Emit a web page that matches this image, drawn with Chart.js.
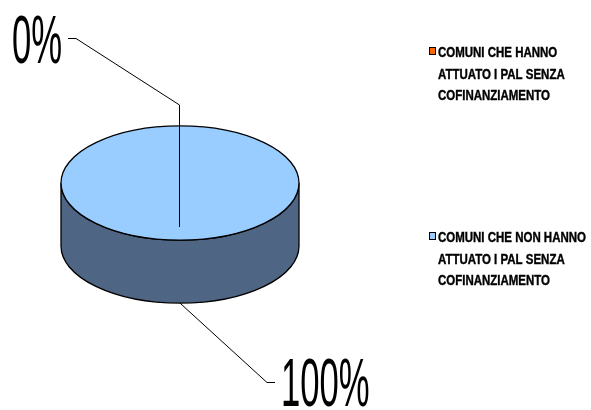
<!DOCTYPE html>
<html>
<head>
<meta charset="utf-8">
<script src="https://cdn.jsdelivr.net/npm/chart.js@4"></script>
<style>
  html, body { margin: 0; padding: 0; background: #fff; }
  canvas { display: block; }
</style>
</head>
<body>
<canvas id="chart" width="591" height="410"></canvas>
<script>
// dati della torta
const categories = [
  ["COMUNI CHE HANNO", "ATTUATO I PAL SENZA", "COFINANZIAMENTO"],
  ["COMUNI CHE NON HANNO", "ATTUATO I PAL SENZA", "COFINANZIAMENTO"]
];
const values = [0, 100];
const percentLabels = ["0%", "100%"];
const topColors = ["#FF6600", "#99CCFF"];
const sideColors = ["#8A3A05", "#4F6584"];

const SQUASH = 0.48;  // rapporto assi ellisse
const DEPTH = 63;     // spessore del cilindro

function arcGeom(chart) {
  const arcs = chart.getDatasetMeta(0).data;
  const a = arcs[0];
  return { arcs, x: a.x, y: a.y, r: a.outerRadius };
}

// torta 3D: lato prima, poi schiaccio la faccia superiore
const pie3d = {
  id: "pie3d",
  beforeDatasetsDraw(chart) {
    const ctx = chart.ctx;
    const { arcs, x, y, r } = arcGeom(chart);
    const ry = r * SQUASH;
    arcs.forEach((arc, i) => {
      if (arc.circumference <= 0) return;
      // parte frontale (0..PI) del settore
      for (const shift of [0, Math.PI * 2, -Math.PI * 2]) {
        const s = Math.max(arc.startAngle + shift, 0);
        const e = Math.min(arc.endAngle + shift, Math.PI);
        if (e <= s) continue;
        ctx.save();
        ctx.beginPath();
        ctx.ellipse(x, y + DEPTH, r, ry, 0, s, e);
        ctx.ellipse(x, y, r, ry, 0, e, s, true);
        ctx.closePath();
        ctx.fillStyle = sideColors[i];
        ctx.fill();
        ctx.lineWidth = 1.3;
        ctx.strokeStyle = "#000";
        ctx.stroke();
        ctx.restore();
      }
    });
    ctx.save();
    ctx.translate(x, y);
    ctx.scale(1, SQUASH);
    ctx.translate(-x, -y);
  },
  afterDatasetsDraw(chart) {
    const ctx = chart.ctx;
    ctx.restore();
    const { arcs, x, y, r } = arcGeom(chart);
    const ry = r * SQUASH;
    ctx.save();
    ctx.lineWidth = 1.3;
    ctx.strokeStyle = "#000";
    arcs.forEach(arc => {
      if (arc.circumference <= 0) return;
      ctx.beginPath();
      if (arc.circumference >= Math.PI * 2 - 1e-6) {
        ctx.ellipse(x, y, r, ry, 0, 0, Math.PI * 2);
      } else {
        ctx.moveTo(x, y);
        ctx.ellipse(x, y, r, ry, 0, arc.startAngle, arc.endAngle);
        ctx.closePath();
      }
      ctx.stroke();
    });
    ctx.restore();
  },
  afterDraw(chart) {
    const ctx = chart.ctx;
    const { x, y, r } = arcGeom(chart);
    const ry = r * SQUASH;

    // linee guida
    ctx.save();
    ctx.strokeStyle = "#000";
    ctx.lineWidth = 1;
    ctx.beginPath();
    ctx.moveTo(68, 38.5);
    ctx.lineTo(76, 38.5);
    ctx.lineTo(x - 0.5, y - 78);
    ctx.lineTo(x - 0.5, y + 44);
    ctx.stroke();
    ctx.beginPath();
    ctx.moveTo(x, y + ry + DEPTH);
    ctx.lineTo(267, 382.5);
    ctx.lineTo(275, 382.5);
    ctx.stroke();

    // etichette percentuali
    ctx.fillStyle = "#000";
    ctx.font = "68px 'Liberation Sans', Arial, sans-serif";
    ctx.textBaseline = "alphabetic";
    const pos = [[12, 63], [281, 406]];
    percentLabels.forEach((t, i) => {
      ctx.save();
      ctx.translate(pos[i][0], pos[i][1]);
      ctx.scale(0.51, 1);
      ctx.fillText(t, 0, 0);
      ctx.restore();
    });

    // legenda
    const legendY = [57, 242];
    ctx.font = "bold 14px 'Liberation Sans', Arial, sans-serif";
    categories.forEach((lines, i) => {
      ctx.fillStyle = topColors[i];
      ctx.fillRect(429.5, legendY[i] - 9.5, 6, 7);
      ctx.strokeStyle = "#000";
      ctx.lineWidth = 1;
      ctx.strokeRect(429.5, legendY[i] - 9.5, 6, 7);
      ctx.fillStyle = "#000";
      lines.forEach((ln, j) => {
        ctx.save();
        ctx.translate(438, legendY[i] + j * 21.5);
        ctx.scale(0.82, 1);
        ctx.fillText(ln, 0, 0);
        ctx.lineWidth = 0.4;
        ctx.strokeText(ln, 0, 0);
        ctx.restore();
      });
    });
    ctx.restore();
  }
};

new Chart(document.getElementById("chart"), {
  type: "pie",
  data: {
    labels: categories.map(c => c.join(" ")),
    datasets: [{
      data: values,
      backgroundColor: topColors,
      borderWidth: 0
    }]
  },
  options: {
    responsive: false,
    devicePixelRatio: 1,
    animation: false,
    layout: { padding: { left: 61, right: 292, top: 64, bottom: 108 } },
    plugins: { legend: { display: false }, tooltip: { enabled: false } }
  },
  plugins: [pie3d]
});
</script>
</body>
</html>
